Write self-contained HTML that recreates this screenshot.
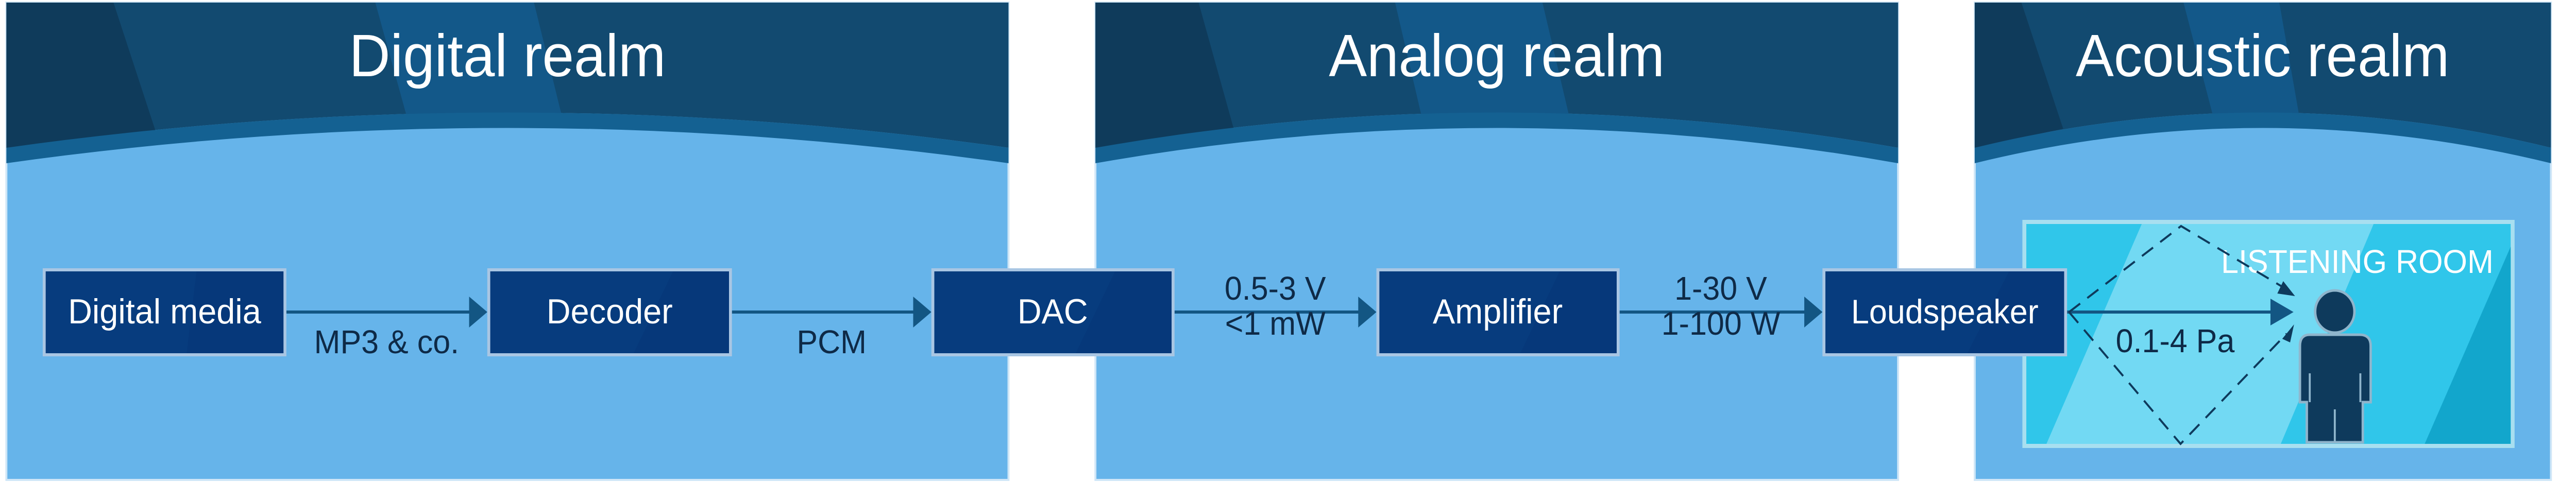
<!DOCTYPE html>
<html><head><meta charset="utf-8"><style>
html,body{margin:0;padding:0;background:#fff;overflow:hidden;width:100%;height:100%;}
svg{display:block;width:100vw;height:100vh}
text{font-family:"Liberation Sans",sans-serif;}
</style></head><body>
<svg viewBox="0 0 5244 938" preserveAspectRatio="none" xmlns="http://www.w3.org/2000/svg">
<g>
<rect x="13" y="5" width="2040" height="927" fill="#66b4ea" stroke="#cfe6f7" stroke-width="4"/>
<path d="M13,5 H2053 V287 Q1033,150 13,287 Z" fill="#124a70"/>
<polygon points="13,5 231,5 322,270 13,287" fill="#0f3b5b"/>
<polygon points="764,5 1087,5 1145,230 830,233" fill="#135889"/>
<path d="M13,287 Q1033,150 2053,287 L2053,317 Q1033,180 13,317 Z" fill="#146192"/>
<text x="1033" y="148" font-size="116" fill="#fff" text-anchor="middle">Digital realm</text>
</g>
<g>
<rect x="2230" y="5" width="1634" height="927" fill="#66b4ea" stroke="#cfe6f7" stroke-width="4"/>
<path d="M2230,5 H3864 V287 Q3047,150 2230,287 Z" fill="#124a70"/>
<polygon points="2230,5 2440,5 2515,262 2230,287" fill="#0f3b5b"/>
<polygon points="2840,5 3140,5 3195,228 2895,230" fill="#135889"/>
<path d="M2230,287 Q3047,150 3864,287 L3864,317 Q3047,180 2230,317 Z" fill="#146192"/>
<text x="3047" y="148" font-size="116" fill="#fff" text-anchor="middle">Analog realm</text>
</g>
<g>
<rect x="4020" y="5" width="1173" height="927" fill="#66b4ea" stroke="#cfe6f7" stroke-width="4"/>
<path d="M4020,5 H5193 V287 Q4606,150 4020,287 Z" fill="#124a70"/>
<polygon points="4020,5 4115,5 4200,250 4020,287" fill="#0f3b5b"/>
<polygon points="4445,5 4640,5 4680,222 4505,225" fill="#135889"/>
<path d="M4020,287 Q4606,150 5193,287 L5193,317 Q4606,180 4020,317 Z" fill="#146192"/>
<text x="4606" y="148" font-size="116" fill="#fff" text-anchor="middle">Acoustic realm</text>
</g>

<rect x="4121" y="431" width="994" height="435" fill="#30c6ea" stroke="#a8dff0" stroke-width="8"/>
<polygon points="4360,435 4832,435 4643,862 4166,862" fill="#72d9f3"/>
<polygon points="5111,479 5111,862 4936,862" fill="#12a6cc"/>
<text x="5076" y="530" font-size="64" fill="#fff" text-anchor="end">LISTENING ROOM</text>

<g stroke="#135683" stroke-width="6" fill="none">
<line x1="583" y1="606" x2="960" y2="606"/>
<line x1="1490" y1="606" x2="1864" y2="606"/>
<line x1="2391" y1="606" x2="2770" y2="606"/>
<line x1="3297" y1="606" x2="3678" y2="606"/>
<line x1="4208" y1="606" x2="4636" y2="606"/>
</g>
<g fill="#135683">
<polygon points="955,576 992,606 955,636"/>
<polygon points="1859,576 1896,606 1859,636"/>
<polygon points="2765,576 2802,606 2765,636"/>
<polygon points="3673,576 3710,606 3673,636"/>
<polygon points="4622,580 4669,606 4622,632"/>
</g>
<g stroke="#0e3a5c" stroke-width="4" fill="none" stroke-dasharray="28,18">
<polyline points="4212,606 4440,439 4655,562"/>
<polyline points="4212,606 4439,862 4655,648"/>
</g>
<g fill="#0e3a5c">
<polygon points="4648,546 4672,575 4636,570"/>
<polygon points="4646,658 4670,630 4662,665"/>
</g>

<g font-size="64" fill="#0e2a47" text-anchor="middle">
<text x="787" y="686">MP3 &amp; co.</text>
<text x="1693" y="686">PCM</text>
<text x="2596" y="582">0.5-3 V</text>
<text x="2596" y="650">&lt;1 mW</text>
<text x="3503" y="582">1-30 V</text>
<text x="3503" y="650">1-100 W</text>
<text x="4428" y="684">0.1-4 Pa</text>
</g>

<g>
<rect x="87" y="521" width="496" height="171" fill="#a9c6e3"/>
<rect x="93" y="527" width="484" height="159" fill="#073c7e"/>
<polygon points="400,527 577,527 577,686 380,686" fill="#06387a"/>
<text x="335" y="628" font-size="68" fill="#fff" text-anchor="middle">Digital media</text>

<rect x="992" y="521" width="498" height="171" fill="#a9c6e3"/>
<rect x="998" y="527" width="486" height="159" fill="#073c7e"/>
<polygon points="1370,527 1484,527 1484,686 1290,686" fill="#06387a"/>
<text x="1241" y="628" font-size="68" fill="#fff" text-anchor="middle">Decoder</text>

<rect x="1896" y="521" width="495" height="171" fill="#a9c6e3"/>
<rect x="1902" y="527" width="483" height="159" fill="#073c7e"/>
<polygon points="2270,527 2385,527 2385,686 2190,686" fill="#06387a"/>
<text x="2143" y="628" font-size="68" fill="#fff" text-anchor="middle">DAC</text>

<rect x="2802" y="521" width="495" height="171" fill="#a9c6e3"/>
<rect x="2808" y="527" width="483" height="159" fill="#073c7e"/>
<polygon points="3175,527 3291,527 3291,686 3095,686" fill="#06387a"/>
<text x="3049" y="628" font-size="68" fill="#fff" text-anchor="middle">Amplifier</text>

<rect x="3710" y="521" width="498" height="171" fill="#a9c6e3"/>
<rect x="3716" y="527" width="486" height="159" fill="#073c7e"/>
<polygon points="4090,527 4202,527 4202,686 4005,686" fill="#06387a"/>
<text x="3959" y="628" font-size="66" fill="#fff" text-anchor="middle">Loudspeaker</text>
</g>

<g fill="#0e3a5c" stroke="#8fb5cc" stroke-width="5">
<ellipse cx="4753" cy="605" rx="40" ry="41"/>
<path d="M4702,650 L4804,650 Q4826,650 4826,672 L4826,781 L4810,781 L4810,859 L4696,859 L4696,781 L4682,781 L4682,672 Q4682,650 4702,650 Z"/>
</g>
<g stroke="#8fb5cc" stroke-width="4">
<line x1="4753" y1="795" x2="4753" y2="857"/>
<line x1="4702" y1="725" x2="4702" y2="781"/>
<line x1="4805" y1="725" x2="4805" y2="781"/>
</g>
</svg>
</body></html>
